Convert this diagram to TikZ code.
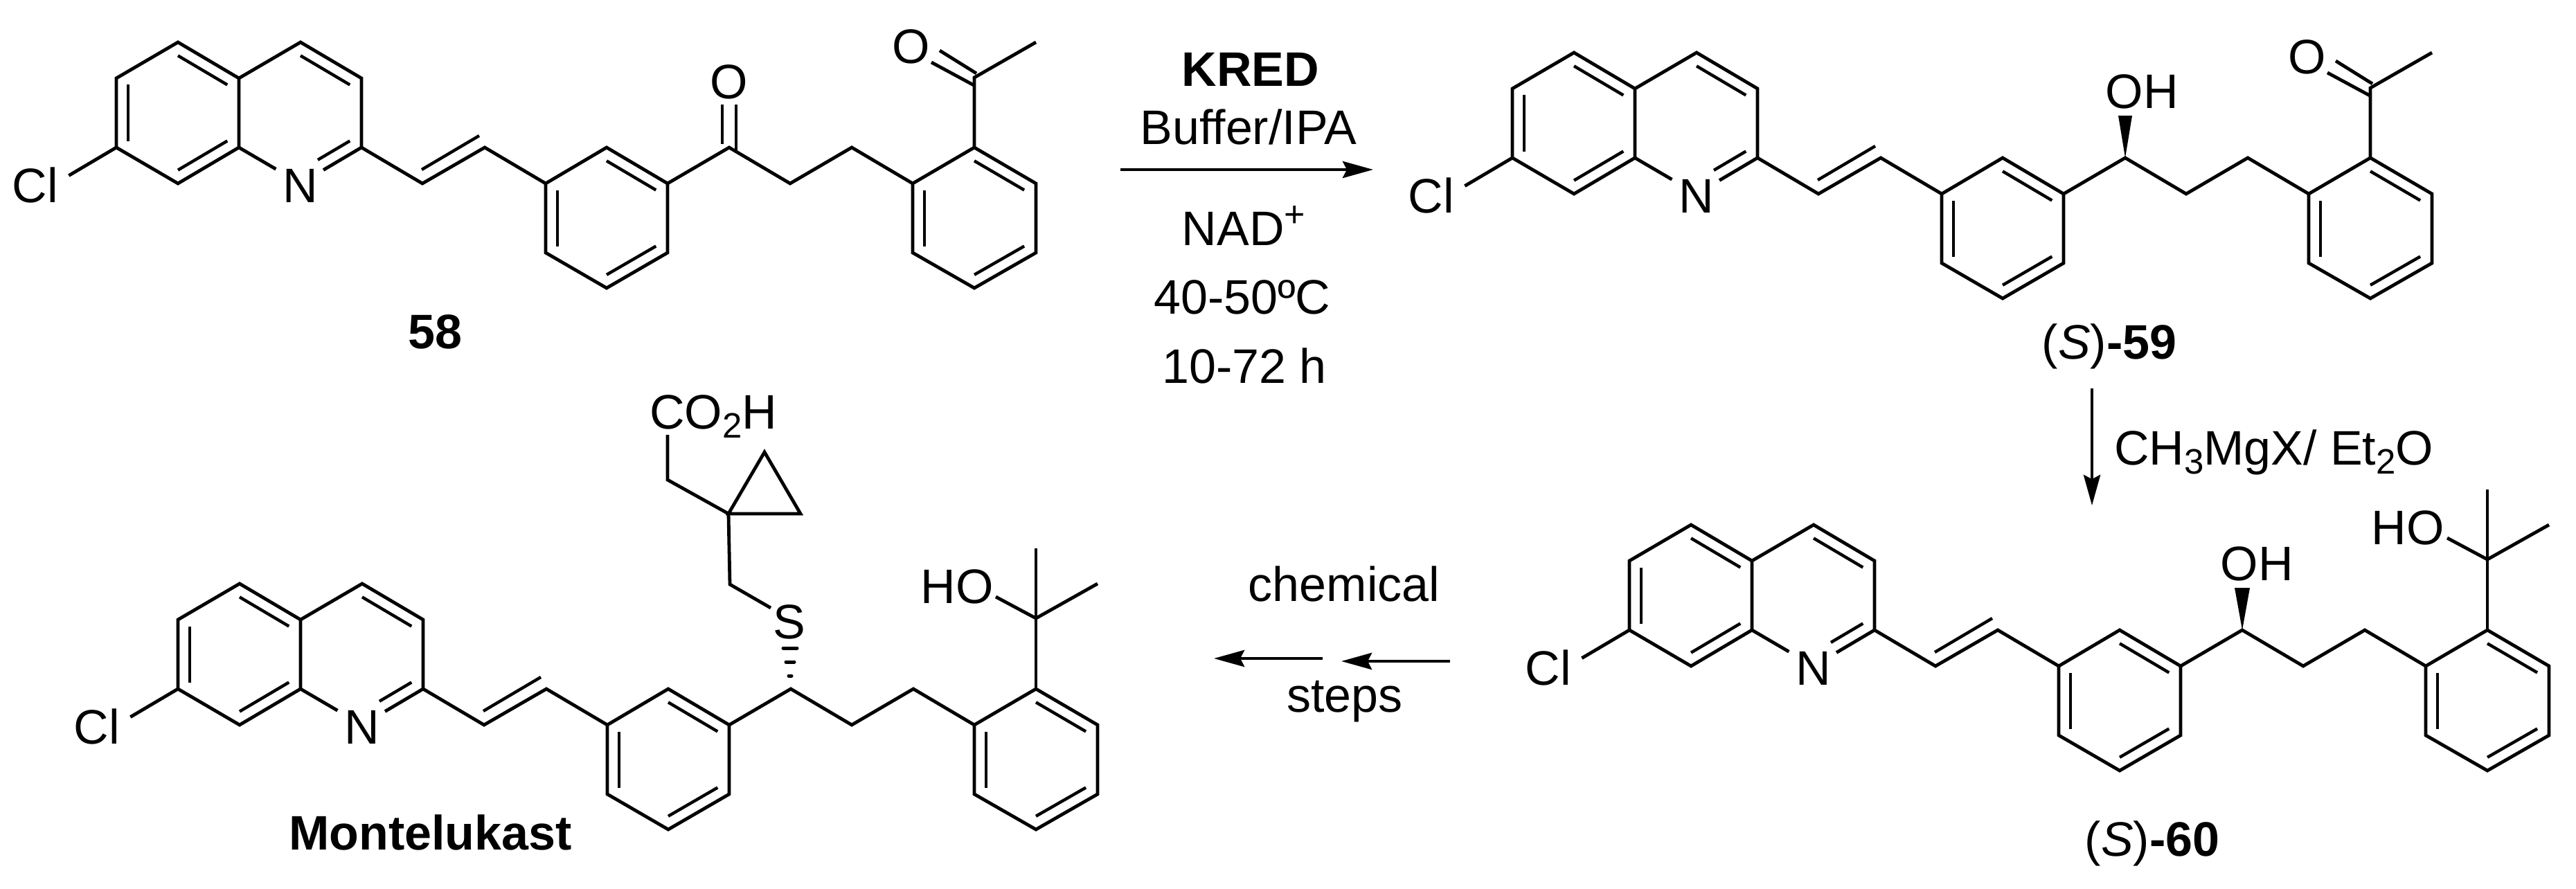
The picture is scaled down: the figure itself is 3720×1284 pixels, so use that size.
\documentclass[tikz,border=0pt]{standalone}
\usepackage{fontspec}
\setmainfont{Liberation Sans}
\usetikzlibrary{calc,arrows.meta}
\tikzset{
  bond/.style={line width=2.4pt,line join=miter,miter limit=10,line cap=butt},
  inbond/.style={line width=2.2pt,line cap=butt},
  hashbond/.style={line width=2.5pt,line cap=round},
  atom/.style={inner sep=0pt,outer sep=0pt,anchor=base,font=\fontsize{35}{40}\selectfont},
  rxn/.style={line width=2.4pt,-{Stealth[length=22pt,width=12pt,inset=3pt]}},
}
\newcommand{\lowtxt}[1]{\raisebox{-6.5pt}{\fontsize{25.5}{28}\selectfont #1}}
\newcommand{\hightxt}[1]{\raisebox{13.5pt}{\fontsize{26}{28}\selectfont #1}}
% inner line of a double bond: the bond scaled about the ring centre
\newcommand{\innerbond}[3]{\draw[inbond] ($(#1)!0.81!(#2)$) -- ($(#1)!0.81!(#3)$);}
% common skeleton; #1 = name prefix, drawn inside a shifted scope
\newcommand{\skeleton}[1]{%
  \coordinate (#1a) at (168,113); \coordinate (#1b) at (257,61); \coordinate (#1c) at (345,113);
  \coordinate (#1d) at (345,213); \coordinate (#1e) at (257,265); \coordinate (#1f) at (168,213);
  \coordinate (#1g) at (434,61);  \coordinate (#1h) at (522,113); \coordinate (#1i) at (522,213);
  \coordinate (#1j) at (434,265); \coordinate (#1x) at (80,265);
  \coordinate (#1cL) at (257,163); \coordinate (#1cP) at (434,163);
  \coordinate (#1s) at (610,265); \coordinate (#1u) at (700,213);
  \coordinate (#1m1) at (788,265); \coordinate (#1m2) at (876,213); \coordinate (#1m3) at (964,265);
  \coordinate (#1m4) at (964,365); \coordinate (#1m5) at (876,416); \coordinate (#1m6) at (788,365);
  \coordinate (#1cM) at (876,315);
  \coordinate (#1k) at (1053,213); \coordinate (#1t1) at (1141,265); \coordinate (#1t2) at (1230,213);
  \coordinate (#1n1) at (1318,265); \coordinate (#1n2) at (1407,213); \coordinate (#1n3) at (1496,265);
  \coordinate (#1n4) at (1496,365); \coordinate (#1n5) at (1407,416); \coordinate (#1n6) at (1318,365);
  \coordinate (#1cR) at (1407,315);
  \node[atom] (#1Cl) at (51,292) {Cl};
  \node[atom] (#1N) at (434,292) {N};
  \draw[bond] ($(#1f)!.78!(#1x)$) -- (#1f) -- (#1a) -- (#1b) -- (#1c) -- (#1d) -- (#1e) -- (#1f);
  \draw[bond] (#1c) -- (#1g) -- (#1h) -- (#1i) -- (#1s) -- (#1u) -- (#1m1) -- (#1m2) -- (#1m3) -- (#1k) -- (#1t1) -- (#1t2) -- (#1n1) -- (#1n2) -- (#1n3) -- (#1n4) -- (#1n5) -- (#1n6) -- (#1n1);
  \draw[bond] (#1m3) -- (#1m4) -- (#1m5) -- (#1m6) -- (#1m1);
  \draw[bond] (#1d) -- ($(#1d)!.6!(#1j)$);
  \draw[bond] (#1i) -- ($(#1i)!.625!(#1j)$);
  \draw[inbond] ($(#1cP)!.81!(#1i)$) -- ($($(#1cP)!.81!(#1i)$)!.65!($(#1cP)!.81!(#1j)$)$);
  \innerbond{#1cL}{#1a}{#1f}
  \innerbond{#1cL}{#1b}{#1c}
  \innerbond{#1cL}{#1d}{#1e}
  \innerbond{#1cP}{#1g}{#1h}
  \draw[inbond] ($(#1s)+(-1,-20)$) -- ($(#1u)+(-8,-17)$);
  \innerbond{#1cM}{#1m2}{#1m3}
  \innerbond{#1cM}{#1m4}{#1m5}
  \innerbond{#1cM}{#1m6}{#1m1}
  \innerbond{#1cR}{#1n2}{#1n3}
  \innerbond{#1cR}{#1n4}{#1n5}
  \innerbond{#1cR}{#1n6}{#1n1}
}
\newcommand{\acetyl}[1]{%
  \coordinate (#1ac) at (1407,112); \coordinate (#1me) at (1496,61);
  \node[atom] (#1Oac) at (1316,91) {O};
  \draw[bond] (#1n2) -- (#1ac) -- (#1me);
  \draw[bond] ($(#1ac)+(3,-6)$) -- (1357,73);
  \draw[bond] ($(#1ac)+(1,12)$) -- (1345,90);
}
\newcommand{\carbinol}[1]{%
  \coordinate (#1q) at (1407,111); \coordinate (#1q1) at (1407,10); \coordinate (#1q2) at (1496,61);
  \draw[bond] (#1n2) -- (#1q) -- (#1q1);
  \draw[bond] (#1q) -- (#1q2);
  \draw[bond] (#1q) -- (1349,80);
}
\begin{document}
\begin{tikzpicture}[x=0.5pt,y=-0.5pt]
\useasboundingbox (0,0) rectangle (3720,1284);
% --- 58
\begin{scope}
  \skeleton{A}
  \acetyl{A}
  \draw[bond] (1043,151) -- (1043,208);
  \draw[bond] (1063,151) -- (1063,219);
  \node[atom] (AOk) at (1053,142) {O};
\end{scope}
\node[atom] (lab58) at (628.5,503) {\bfseries 58};
% --- 59
\begin{scope}[shift={(2016,15)}]
  \skeleton{B}
  \acetyl{B}
  \node[atom] (BOH) at (1077,141) {OH};
  \fill (1053,213) -- (1043,152) -- (1063,152) -- cycle;
\end{scope}
\node[atom] (lab59) at (3046,518.5) {(\textit{S})\textbf{-59}};
% --- 60
\begin{scope}[shift={(2185,697)}]
  \skeleton{C}
  \carbinol{C}
  \node[atom] (CHO) at (1292,89.5) {HO};
  \node[atom] (COH) at (1074,141) {OH};
  \fill (1053,213) -- (1042,152) -- (1064,152) -- cycle;
\end{scope}
\node[atom] (lab60) at (3108,1236) {(\textit{S})\textbf{-60}};
% --- Montelukast
\begin{scope}[shift={(89,782)}]
  \skeleton{D}
  \carbinol{D}
  \node[atom] (DHO) at (1293,89) {HO};
  \node[atom] (DS) at (1051,140) {S};
  \coordinate (Dch) at (965,62);
  \coordinate (Dsb) at (1024,96);
  \coordinate (Dcp) at (963,-40);
  \coordinate (Dcq) at (875,-89);
  \coordinate (Dcr) at (875,-154);
  \coordinate (Dtop) at (1015,-129);
  \coordinate (Drt) at (1067,-40);
  \draw[bond] (Dcp) -- (Dch) -- (Dsb);
  \draw[bond] (Dcr) -- (Dcq) -- (Dcp);
  \draw[bond] (Dcp) -- (Dtop) -- (Drt) -- cycle;
  \draw[hashbond] (1050,194) -- (1054,194);
  \draw[hashbond] (1046,174) -- (1058,174);
  \draw[hashbond] (1042,154) -- (1062,154);
\end{scope}
\node[atom,anchor=base west] (DCO) at (938,619) {CO\lowtxt{2}H};
\node[atom] (labM) at (621.5,1227) {\bfseries Montelukast};
% --- reaction text and arrows
\coordinate (r1s) at (1618,245); \coordinate (r1e) at (1983,245);
\draw[rxn] (r1s) -- (r1e);
\node[atom] (kred) at (1806,124.5) {\bfseries KRED};
\node[atom] (buf) at (1803,208) {Buffer/IPA};
\node[atom] (nad) at (1796,354) {NAD\hightxt{+}};
\node[atom] (tmp) at (1794,453) {40-50ºC};
\node[atom] (tim) at (1797,553) {10-72 h};
\coordinate (r2s) at (3021,561); \coordinate (r2e) at (3021,730);
\draw[rxn] (r2s) -- (r2e);
\node[atom,anchor=base west] (gri) at (3053,671) {CH\lowtxt{3}MgX/ Et\lowtxt{2}O};
\coordinate (r3s) at (2094,955); \coordinate (r3e) at (1937,955);
\coordinate (r4s) at (1910,951); \coordinate (r4e) at (1753,951);
\draw[rxn] (r3s) -- (r3e);
\draw[rxn] (r4s) -- (r4e);
\node[atom] (che) at (1941,868) {chemical};
\node[atom] (ste) at (1942,1028) {steps};
\end{tikzpicture}
\end{document}
